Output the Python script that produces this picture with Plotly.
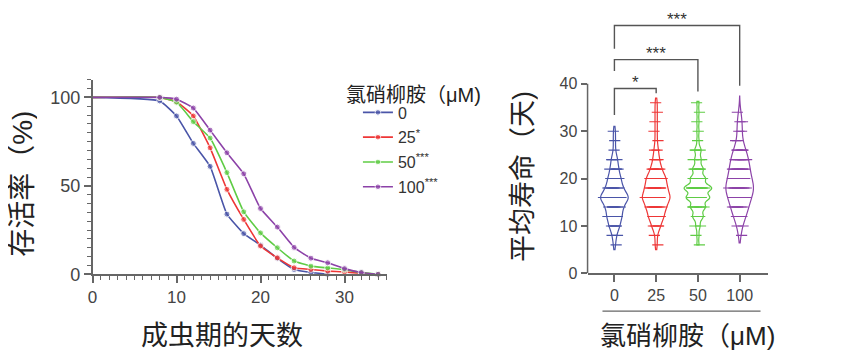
import plotly.graph_objects as go

# ---------------- data ----------------
days = [0, 8, 10, 12, 14, 16, 18, 20, 22, 24, 26, 28, 30, 32, 34]
surv_0 = [100, 98, 89.5, 74, 61, 34, 23, 16.5, 9, 2.7, 1, 0, None, None, None]
surv_25 = [100, 100, 97.5, 89.5, 71.5, 48, 31, 16, 9.3, 3.7, 2.7, 1.8, 1.3, 0.6, 0]
surv_50 = [100, 100, 97.3, 86.3, 77, 57.5, 35.3, 23.4, 15, 7.5, 4.6, 3.6, 2.6, 1, 0]
surv_100 = [100, 100, 99, 94, 81.5, 68.7, 56.8, 37.2, 26.7, 15.2, 9.1, 6.5, 3.2, 1, 0]

groups = ["0", "25", "50", "100"]
legend_names = ["0", "25<sup>*</sup>", "50<sup>***</sup>", "100<sup>***</sup>"]
colors = ["#4a55a8", "#ee3636", "#5fcc45", "#8c42a8"]

# lifespan distribution (day -> number of animals)
life_days = [6, 8, 10, 12, 14, 16, 18, 20, 22, 24, 26, 28, 30, 32, 34, 36]
life_0 = [1, 2, 5, 7, 8, 14, 8, 6, 4, 3, 1, 1, 1, 0, 0, 0]
life_25 = [1, 1, 4, 7, 9, 13, 10, 9, 5, 3, 2, 1, 1, 1, 1, 1]
life_50 = [1, 1, 2, 5, 7, 11, 13, 7, 5, 3, 3, 1, 1, 1, 1, 1]
life_100 = [0, 1, 2, 5, 7, 9, 12, 9, 8, 7, 5, 2, 2, 2, 1, 0]
bandwidths = [1.1, 1.1, 0.75, 1.6]
violin_spans = [[5, 31], [5, 37], [6, 36.3], [6.4, 37.4]]

# significance brackets: (group a, group b, label)
comparisons = [(0, 1, "*"), (0, 2, "***"), (0, 3, "***")]
bracket_tops = [39.0, 45.1, 52.3]
bracket_left_ends = [33.4, 42.7, 47.4]
bracket_right_ends = [38.0, 38.4, 39.6]

FONT = "Arial, 'Liberation Sans', 'Noto Sans CJK SC', sans-serif"
AX = "#666666"
TXT = "#444444"

fig = go.Figure()

survs = [surv_0, surv_25, surv_50, surv_100]
for name, s, c in zip(legend_names, survs, colors):
    sizes = [0] + [6] * (len(days) - 1)
    fig.add_trace(go.Scatter(
        x=days, y=s, mode="lines+markers", name=name,
        line=dict(color=c, width=1.6, shape="spline", smoothing=0.4),
        marker=dict(color=c, size=sizes),
        cliponaxis=False, xaxis="x", yaxis="y",
        legendgroup=name,
    ))

lifes = [life_0, life_25, life_50, life_100]
for i, (counts, c, bw, sp) in enumerate(zip(lifes, colors, bandwidths, violin_spans)):
    vals = []
    for d, n in zip(life_days, counts):
        vals += [d] * n
    fig.add_trace(go.Violin(
        x=[i] * len(vals), y=vals, xaxis="x2", yaxis="y2",
        line=dict(color=c, width=1.2), fillcolor="rgba(0,0,0,0)",
        bandwidth=bw, width=0.66, points="all", pointpos=0, jitter=0.85,
        marker=dict(symbol="line-ew", size=8, color=c, line=dict(width=1.1, color=c)),
        showlegend=False, hoverinfo="skip", spanmode="manual", span=sp,
    ))

shapes = []
for (a, b, lab), top, lend, rend in zip(comparisons, bracket_tops, bracket_left_ends, bracket_right_ends):
    shapes.append(dict(type="path", xref="x2", yref="y2",
                       path=f"M {a},{lend} L {a},{top} L {b},{top} L {b},{rend}",
                       line=dict(color="#555555", width=1.4)))
# right y-axis line (0-40 only)
shapes.append(dict(type="line", xref="x2 domain", yref="y2", x0=0, x1=0, y0=0, y1=40,
                   line=dict(color=AX, width=1.5)))
# separator line under right categories
shapes.append(dict(type="line", xref="paper", yref="paper",
                   x0=593 / 841, x1=752 / 841, y0=(355 - 312) / 355, y1=(355 - 312) / 355,
                   line=dict(color=AX, width=1.3)))

def paper(px, py):
    return px / 841, (355 - py) / 355

annotations = []
for (a, b, lab), top in zip(comparisons, bracket_tops):
    annotations.append(dict(x=(a + b) / 2, y=top, xref="x2", yref="y2", text=lab,
                            showarrow=False, xanchor="center", yanchor="middle", yshift=6,
                            font=dict(size=17, color="#333333", family=FONT)))

def title(px, py, text, size, angle=0, xanchor="center", height=None):
    x, y = paper(px, py)
    d = dict(x=x, y=y, xref="paper", yref="paper", text=text, textangle=angle,
             xanchor=xanchor, yanchor="middle", showarrow=False,
             font=dict(size=size, color="#222222", family=FONT))
    if height:
        d["height"] = height
    return d

annotations += [
    title(9, 181, "存活率（%)", 28, -90, height=30),
    title(210, 337, "成虫期的天数", 27),
    title(513, 173, "平均寿命（天)", 27, -90, height=30),
    title(679, 337, "氯硝柳胺（μM)", 26),
    title(333, 90, "氯硝柳胺（μM)", 20, 0, "left"),
]

lx, ly = paper(397 - 50, 90)
fig.update_layout(
    width=841, height=355, margin=dict(l=0, r=0, t=0, b=0),
    paper_bgcolor="white", plot_bgcolor="white",
    font=dict(family=FONT, color=TXT),
    showlegend=True,
    legend=dict(x=lx, y=ly, xanchor="left", yanchor="top",
                font=dict(size=16, color="#333333", family=FONT),
                tracegroupgap=1, bgcolor="rgba(0,0,0,0)"),
    xaxis=dict(domain=[80 / 841, 375.75 / 841], range=[0, 35], anchor="y",
               showline=True, linecolor=AX, linewidth=1.5, showgrid=False, zeroline=False,
               tickvals=[0, 10, 20, 30], ticks="outside", ticklen=7, tickwidth=1.5, tickcolor=AX,
               minor=dict(dtick=1, ticks="outside", ticklen=4, tickwidth=1.2, tickcolor=AX),
               tickfont=dict(size=17, color=TXT)),
    yaxis=dict(domain=[81 / 355, 281.2 / 355], range=[0, 110], anchor="x",
               showline=True, linecolor=AX, linewidth=1.5, showgrid=False, zeroline=False,
               tickvals=[0, 50, 100], ticks="outside", ticklen=7, tickwidth=1.5, tickcolor=AX,
               minor=dict(dtick=5, ticks="outside", ticklen=4, tickwidth=1.2, tickcolor=AX),
               tickfont=dict(size=18, color=TXT)),
    xaxis2=dict(domain=[578 / 841, 760 / 841], range=[-0.643, 3.69], anchor="y2",
                showline=True, linecolor=AX, linewidth=1.5, showgrid=False, zeroline=False,
                tickvals=[0, 1, 2, 3], ticktext=groups, ticks="outside", ticklen=7,
                tickwidth=1.5, tickcolor=AX, tickfont=dict(size=16, color=TXT)),
    yaxis2=dict(domain=[82 / 355, 350.1 / 355], range=[0, 55], anchor="x2",
                showline=False, showgrid=False, zeroline=False,
                tickvals=[0, 10, 20, 30, 40], ticks="outside", ticklen=6, tickwidth=1.5,
                tickcolor=AX, tickfont=dict(size=16, color=TXT)),
    shapes=shapes, annotations=annotations,
)

fig.write_html("out.html")
